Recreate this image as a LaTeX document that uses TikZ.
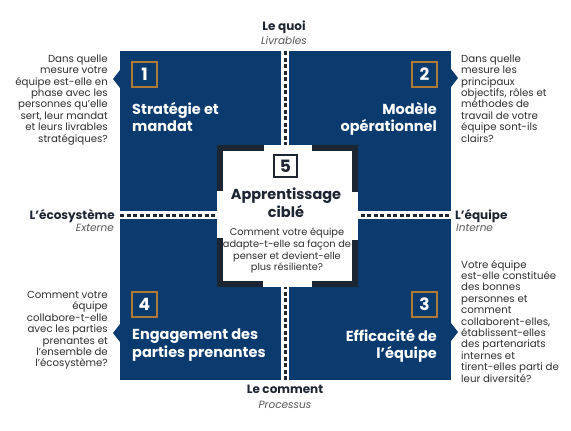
\documentclass[tikz,border=0pt]{standalone}
\usepackage{fontspec}
\setmainfont{Poppins}
\usepackage{tikz}
\usetikzlibrary{calc}
\definecolor{bleu}{HTML}{0A3A6E}
\definecolor{encre}{HTML}{1E2532}
\definecolor{cuivre}{HTML}{B07A32}
\definecolor{texte}{HTML}{2E2E2E}
\definecolor{gris}{HTML}{555555}

\begin{document}
\begin{tikzpicture}[x=1pt,y=-1pt,
  numbox/.style={draw=cuivre, line width=1.2pt, minimum size=25pt, inner sep=0pt, text=white, font=\fontsize{17}{17}\selectfont\bfseries},
  titre/.style={text=white, inner sep=0pt, font=\fontsize{14.5}{17.5}\selectfont\bfseries},
  question/.style={text=texte, inner sep=0pt, font=\fontsize{10.2}{11.4}\selectfont},
  axe/.style={text=encre, inner sep=0pt, font=\fontsize{12}{12}\selectfont\bfseries},
  sousaxe/.style={text=gris, inner sep=0pt, font=\fontsize{10.5}{10.5}\selectfont\itshape},
  pointille/.style={encre, line width=3pt, dash pattern=on 4pt off 2.5pt},
  equerre/.style={encre, line width=6pt}
]
\useasboundingbox (0,0) rectangle (571,431);
% quadrants
\fill[bleu] (120,51) rectangle (281,211);
\fill[bleu] (289,51) rectangle (451,211);
\fill[bleu] (120,219) rectangle (281,380);
\fill[bleu] (289,219) rectangle (451,380);
% pointes vers les questions
\fill[bleu] (120,70) -- (113,79) -- (120,88) -- cycle;
\fill[bleu] (451,69) -- (458,78) -- (451,87) -- cycle;
\fill[bleu] (120,324) -- (113,333) -- (120,342) -- cycle;
\fill[bleu] (451,323) -- (458,332) -- (451,341) -- cycle;
% axes
\coordinate (haut) at (285,51);
\coordinate (bas) at (285,380);
\coordinate (gauche) at (120,215);
\coordinate (droite) at (451,215);
\draw[pointille] (haut) -- (bas);
\draw[pointille] (gauche) -- (droite);
% carre central
\fill[white] (217,145) rectangle (358,287);
\draw[equerre] (220,191) -- (220,148) -- (264,148);
\draw[equerre] (312,148) -- (355,148) -- (355,192);
\draw[equerre] (220,238) -- (220,284) -- (263,284);
\draw[equerre] (312,284) -- (355,284) -- (355,240);
% numeros et titres
\node[numbox] (n1) at (144.5,74.5) {1};
\node[numbox] (n2) at (424.5,74.5) {2};
\node[numbox] (n3) at (424.5,304.5) {3};
\node[numbox] (n4) at (144.5,304.5) {4};
\node[draw=encre, line width=2pt, minimum width=23pt, minimum height=22pt, inner sep=0pt, text=encre, font=\fontsize{17}{17}\selectfont\bfseries] (n5) at (285.5,166) {5};
\node[titre, anchor=north west, align=left] (t1) at (132,102) {Stratégie et\\mandat};
\node[titre, anchor=north east, align=right] (t2) at (437,102) {Modèle\\opérationnel};
\node[titre, anchor=north east, align=right] (t3) at (437,329) {Efficacité de\\l’équipe};
\node[titre, anchor=north west, align=left] (t4) at (132,329) {Engagement des\\parties prenantes};
\node[titre, text=encre, anchor=north, align=center] (t5) at (286,188) {Apprentissage\\ciblé};
% questions
\node[question, anchor=north east, align=right] (q1) at (108,54.5) {Dans quelle\\mesure votre\\équipe est-elle en\\phase avec les\\personnes qu’elle\\sert, leur mandat\\et leurs livrables\\stratégiques?};
\node[question, anchor=north west, align=left] (q2) at (461,54.5) {Dans quelle\\mesure les\\principaux\\objectifs, rôles et\\méthodes de\\travail de votre\\équipe sont-ils\\clairs?};
\node[question, anchor=north west, align=left] (q3) at (461,260) {Votre équipe\\est-elle constituée\\des bonnes\\personnes et\\comment\\collaborent-elles,\\établissent-elles\\des partenariats\\internes et\\tirent-elles parti de\\leur diversité?};
\node[question, anchor=north east, align=right] (q4) at (108,291) {Comment votre\\équipe\\collabore-t-elle\\avec les parties\\prenantes et\\l'ensemble de\\l'écosystème?};
\node[question, font=\fontsize{9.8}{11.6}\selectfont, anchor=north, align=center] (q5) at (287,228) {Comment votre équipe\\adapte-t-elle sa façon de\\penser et devient-elle\\plus résiliente?};
% libelles des axes
\node[axe, anchor=base] (quoi) at (284,30.5) {Le quoi};
\node[sousaxe, anchor=base] (livrables) at (284,45) {Livrables};
\node[axe, anchor=base east] (ecosysteme) at (115,219) {L’écosystème};
\node[sousaxe, anchor=base east] (externe) at (114,231) {Externe};
\node[axe, anchor=base west] (equipe) at (455,219) {L’équipe};
\node[sousaxe, anchor=base west] (interne) at (456,231) {Interne};
\node[axe, anchor=base] (comment) at (285,393) {Le comment};
\node[sousaxe, anchor=base] (processus) at (285,408) {Processus};
\end{tikzpicture}
\end{document}
